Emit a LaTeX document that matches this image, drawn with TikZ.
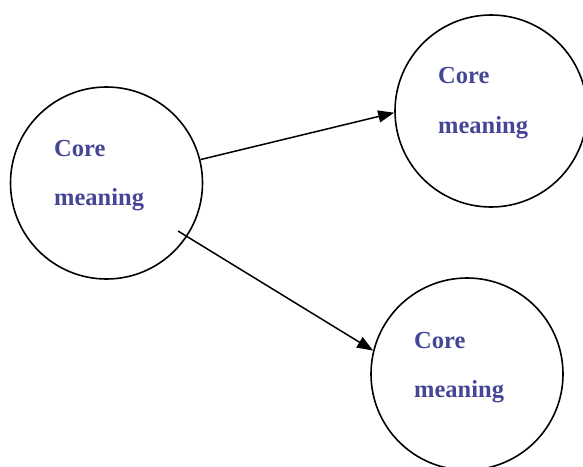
\documentclass[tikz,border=0pt]{standalone}
\usepackage{fontspec}
\setmainfont{Liberation Serif}
\usetikzlibrary{arrows.meta}
\definecolor{txtblue}{RGB}{70,70,150}
\tikzset{
  bubble/.style={draw=black, line width=1.6pt, circle, minimum size=192pt, inner sep=0pt},
  lbl/.style={anchor=base west, inner sep=0pt, text=txtblue, font=\fontsize{24.5}{24.5}\selectfont\bfseries},
  conn/.style={line width=1.5pt, -{Triangle[length=16pt,width=12pt]}}
}
\begin{document}
\begin{tikzpicture}[x=1pt,y=-1pt]
\useasboundingbox (0,0) rectangle (583,466);
\node[bubble] (L) at (106.5,183) {};
\node[bubble] (TR) at (491,111) {};
\node[bubble] (BR) at (467,374) {};
\node[lbl] (l1) at (54,156) {Core};
\node[lbl] (l2) at (54,205) {meaning};
\node[lbl] (t1) at (438,83) {Core};
\node[lbl] (t2) at (438,133) {meaning};
\node[lbl] (b1) at (414,348) {Core};
\node[lbl] (b2) at (414,397) {meaning};
\coordinate (s2) at (178,231);
\draw[conn] (L.14) -- (TR.181);
\draw[conn] (s2) -- (BR.166);
\end{tikzpicture}
\end{document}
